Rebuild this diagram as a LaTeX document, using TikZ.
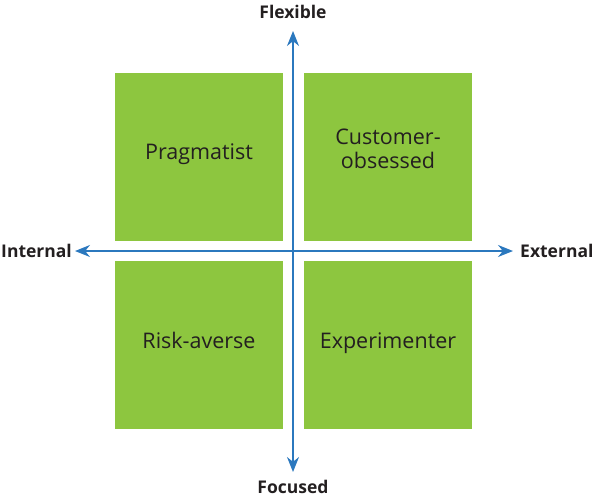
\documentclass[tikz,border=0pt]{standalone}
\usepackage{fontspec}
\setmainfont{Open Sans}
\usepackage{tikz}
\usetikzlibrary{arrows.meta,positioning}
\definecolor{qdgreen}{HTML}{8DC63F}
\definecolor{qdblue}{HTML}{2B78BE}
\definecolor{qdtext}{HTML}{231F20}
\tikzset{
  quadBox/.style={fill=qdgreen, minimum width=168pt, minimum height=168pt, inner sep=0pt, align=center, font=\fontsize{21.5}{24}\selectfont, text=qdtext},
  axisArrow/.style={{Stealth[length=15pt,width=12pt]}-{Stealth[length=15pt,width=12pt]}, line width=1.6pt, draw=qdblue},
  axisLabel/.style={font=\bfseries\fontsize{17.5}{20}\selectfont, text=qdtext, inner sep=0pt}
}
\begin{document}
\begin{tikzpicture}[x=1pt, y=-1pt, node distance=6pt]
  \useasboundingbox (0,0) rectangle (599,501);
  \node[quadBox] (prag) at (199,156.5) {Pragmatist\\[-15pt]};
  \node[quadBox] (cust) at (388,156.5) {Customer-\\obsessed\\[-9pt]};
  \node[quadBox] (risk) at (199,345) {Risk-averse\\[-15pt]};
  \node[quadBox] (expe) at (388,345) {Experimenter\\[-15pt]};
  % axes
  \coordinate (top) at (293,31);
  \coordinate (bot) at (293,472);
  \coordinate (lft) at (75,251);
  \coordinate (rgt) at (513,251);
  \draw[axisArrow] (bot) -- (top);
  \draw[axisArrow] (lft) -- (rgt);
  \node[axisLabel, above=12pt of top] (flex) {Flexible};
  \node[axisLabel, below=8pt of bot] (focu) {Focused};
  \node[axisLabel, left=3pt of lft] (inte) {Internal};
  \node[axisLabel, right=7pt of rgt] (exte) {External};
\end{tikzpicture}
\end{document}
